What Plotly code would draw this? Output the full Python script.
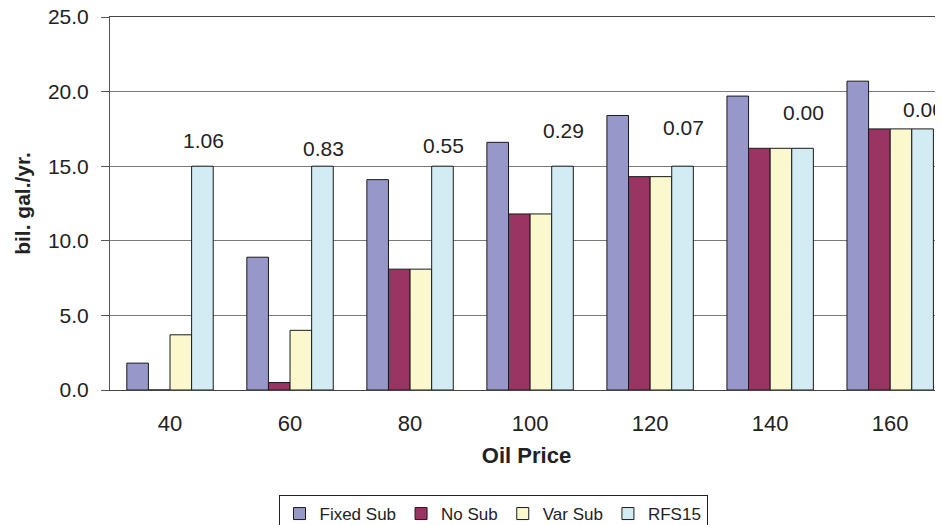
import plotly.graph_objects as go

categories = ["40", "60", "80", "100", "120", "140", "160"]
fixed_sub = [1.8, 8.9, 14.1, 16.6, 18.4, 19.7, 20.7]
no_sub = [0.0, 0.5, 8.1, 11.8, 14.3, 16.2, 17.5]
var_sub = [3.7, 4.0, 8.1, 11.8, 14.3, 16.2, 17.5]
rfs15 = [15.0, 15.0, 15.0, 15.0, 15.0, 16.2, 17.5]
label_texts = ["1.06", "0.83", "0.55", "0.29", "0.07", "0.00", "0.00"]
label_heights = [16.7, 16.2, 16.4, 17.4, 17.6, 18.6, 18.8]

series = [
    ("Fixed Sub", fixed_sub, "#9797C9"),
    ("No Sub", no_sub, "#993463"),
    ("Var Sub", var_sub, "#FBF8CE"),
    ("RFS15", rfs15, "#D3ECF3"),
]

FONT = "Liberation Sans, Arial, sans-serif"

fig = go.Figure()
for name, vals, color in series:
    fig.add_trace(go.Bar(
        x=categories, y=vals, name=name,
        marker=dict(color=color, line=dict(color="#1a1a1a", width=1)),
    ))

for i, (txt, h) in enumerate(zip(label_texts, label_heights)):
    fig.add_annotation(x=i, y=h, xref="x", yref="y", text=txt, showarrow=False,
                       xshift=33, font=dict(family=FONT, size=21, color="#222"))

# page body has an 8px margin, so the figure is sized to fill the rest of the window
fig.update_layout(
    width=935, height=517,
    margin=dict(l=102, r=0, t=9, b=135, autoexpand=False),
    paper_bgcolor="white", plot_bgcolor="white",
    barmode="group", bargap=0.28, bargroupgap=0,
    showlegend=True,
    legend=dict(orientation="h", x=(493 - 110) / 833, xanchor="center",
                y=-(495 - 390) / 373, yanchor="top",
                bordercolor="#222", borderwidth=1, font=dict(family=FONT, size=17, color="#222"),
                itemwidth=30, tracegroupgap=0),
    xaxis=dict(type="category", range=[-0.5, 6.44], showgrid=False, showline=True, mirror=True,
               linecolor="#444", linewidth=1, ticks="",
               tickfont=dict(family=FONT, size=22, color="#222"),
               ticklabelstandoff=14,
               title=dict(text="<b>Oil Price</b>", font=dict(family=FONT, size=22, color="#222"), standoff=12)),
    yaxis=dict(range=[0, 25], dtick=5, tickformat=".1f", showgrid=True, gridcolor="#7a7a7a", gridwidth=1,
               showline=True, linecolor="#555", linewidth=1, ticks="outside", ticklen=8, tickcolor="#555",
               tickfont=dict(family=FONT, size=21, color="#222"), zeroline=False,
               ticklabelstandoff=8, ticklabeloverflow="allow",
               title=dict(text="<b>bil. gal./yr.</b>", font=dict(family=FONT, size=21, color="#222"), standoff=11)),
)

fig.write_html("out.html")
